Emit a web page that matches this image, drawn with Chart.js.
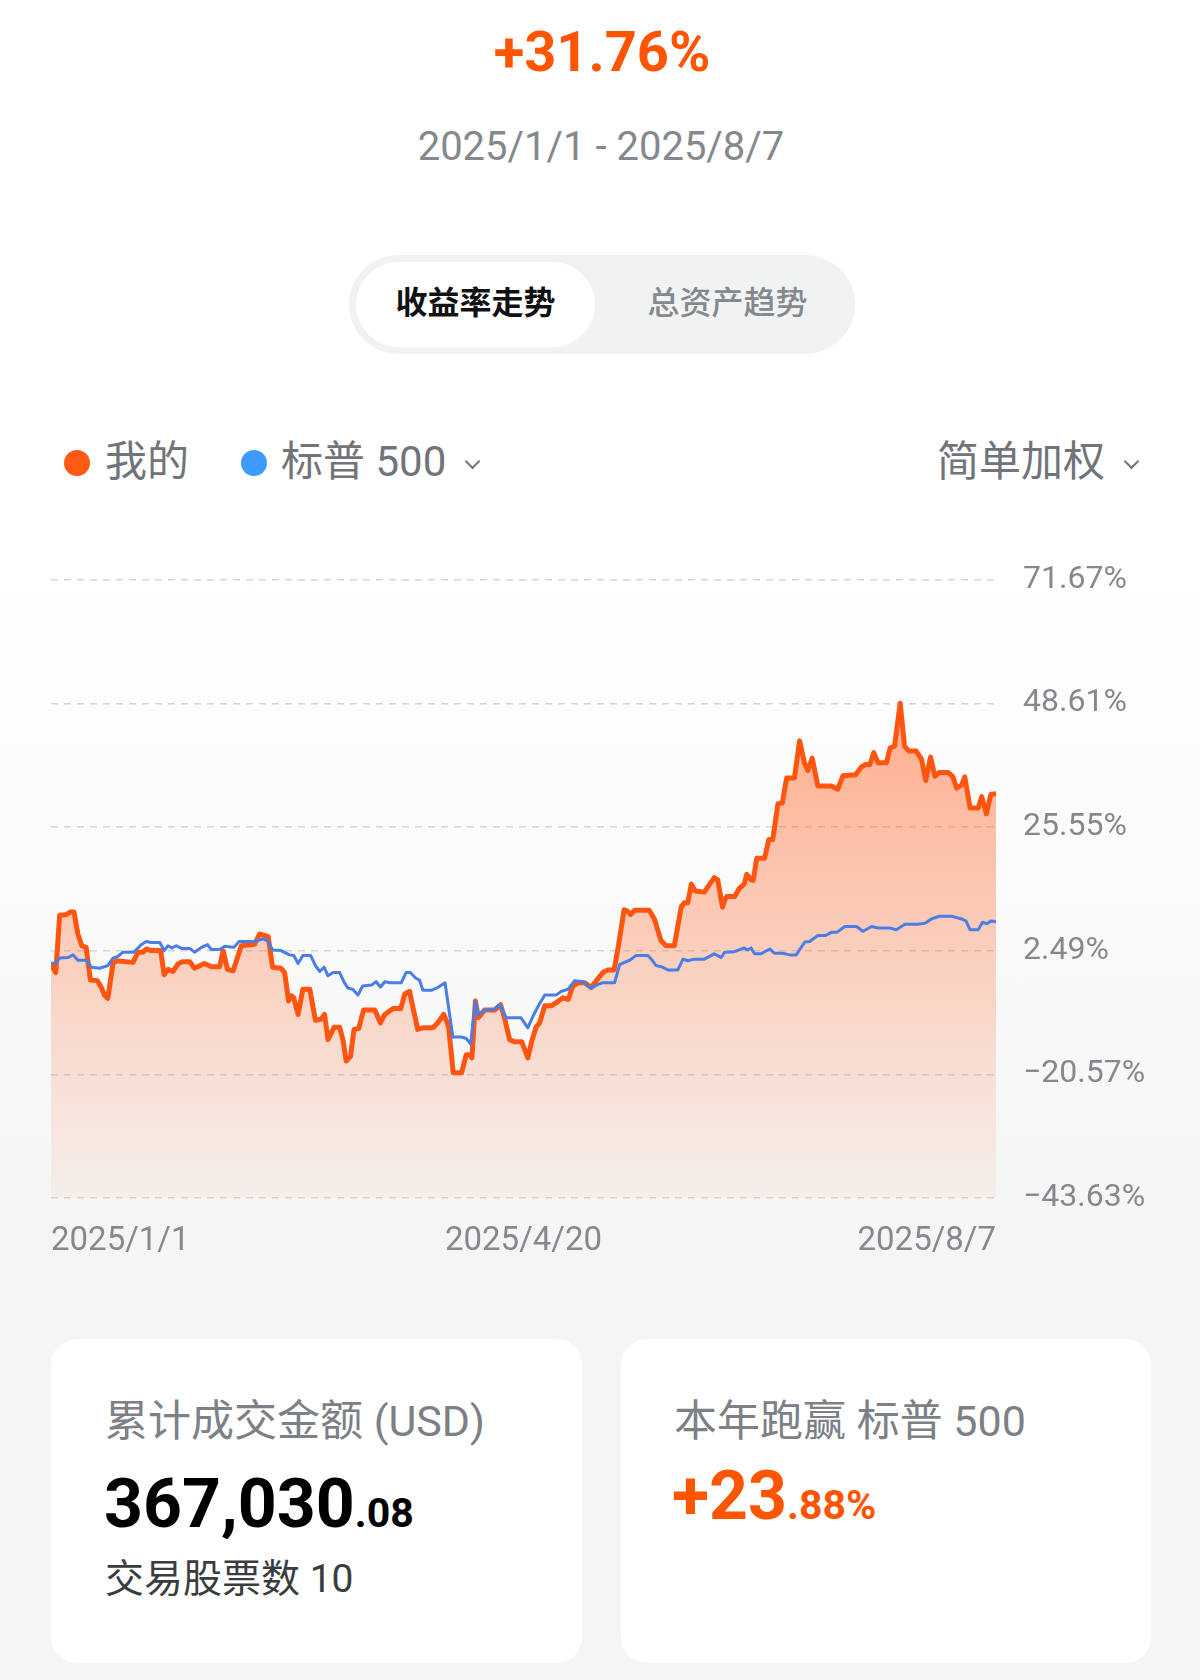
<!DOCTYPE html>
<html lang="zh-CN">
<head>
<meta charset="utf-8">
<title>收益率走势</title>
<script src="https://cdn.jsdelivr.net/npm/chart.js@4.4.1/dist/chart.umd.min.js"></script>
<style>
  html, body { margin: 0; padding: 0; }
  body {
    width: 1200px; height: 1680px; position: relative; overflow: hidden;
    font-family: Roboto, "Noto Sans CJK SC", sans-serif;
    background: linear-gradient(to bottom, #ffffff 0, #ffffff 560px, #f4f5f5 1250px, #f4f5f5 100%);
  }
  .abs { position: absolute; white-space: nowrap; }
  #total { left: 0; width: 1204px; top: 19px; line-height: 66px; text-align: center; font-size: 56px; font-weight: 700; color: #ff5500; }
  #range { left: 0; width: 1202px; top: 124px; line-height: 46px; text-align: center; font-size: 40px; color: #85888d; }
  #toggle { left: 349px; top: 255px; width: 506px; height: 99px; border-radius: 50px; background: #f1f3f3; }
  #tabOn { left: 356px; top: 262px; width: 239px; height: 85px; border-radius: 43px; background: #fff; }
  .tab { top: 282px; line-height: 42px; font-size: 32px; text-align: center; width: 239px; }
  #tab1 { left: 356px; font-weight: 700; color: #111; }
  #tab2 { left: 608px; color: #85888d; font-weight: 500; }
  .dot { width: 26px; height: 26px; border-radius: 50%; top: 450px; }
  .leg { top: 437px; line-height: 50px; font-size: 42px; color: #717479; }
  .chev { width: 9px; height: 9px; border-right: 2.5px solid #717479; border-bottom: 2.5px solid #717479; transform: rotate(45deg); top: 456px; }
  #chartBox { left: 0; top: 540px; width: 1200px; height: 740px; }
  .card { top: 1339px; height: 324px; background: #fff; border-radius: 26px; }
  .cardLabel { top: 1396px; line-height: 50px; font-size: 43px; color: #7d8085; }
  .bigNum { line-height: 70px; font-size: 68px; font-weight: 700; }
  .bigNum span { font-size: 41px; }
</style>
</head>
<body>

<div class="abs" id="total">+31.76%</div>
<div class="abs" id="range">2025/1/1 - 2025/8/7</div>

<div class="abs" id="toggle"></div>
<div class="abs" id="tabOn"></div>
<div class="abs tab" id="tab1">收益率走势</div>
<div class="abs tab" id="tab2">总资产趋势</div>

<div class="abs dot" style="left:64px; background:#ff5a14;"></div>
<div class="abs leg" style="left:105px;">我的</div>
<div class="abs dot" style="left:241px; background:#3d9bff;"></div>
<div class="abs leg" style="left:281px;">标普 500</div>
<div class="abs chev" style="left:467px;"></div>
<div class="abs leg" style="left:937px;">简单加权</div>
<div class="abs chev" style="left:1126px;"></div>

<div class="abs" id="chartBox"><canvas id="chartRet" width="1200" height="740"></canvas></div>

<div class="abs card" style="left:51px; width:531px;"></div>
<div class="abs card" style="left:621px; width:530px;"></div>
<div class="abs cardLabel" style="left:105px;">累计成交金额 (USD)</div>
<div class="abs bigNum" style="left:104px; top:1469px; color:#000;">367,030<span>.08</span></div>
<div class="abs" style="left:105px; top:1556px; line-height:46px; font-size:39px; color:#3a3d40;">交易股票数 10</div>
<div class="abs cardLabel" style="left:674px;">本年跑赢 标普 500</div>
<div class="abs bigNum" style="left:672px; top:1461px; color:#ff5500;">+23<span>.88%</span></div>

<script>
/* 横轴：区间内的天数 (0 = 2025/1/1) 与标签 */
const xLabels = ['2025/1/1', '2025/4/20', '2025/8/7'];
const xTickDays = [0, 109, 218];

/* 纵轴刻度 (%) */
const yTicks = [-43.63, -20.57, 2.49, 25.55, 48.61, 71.67];

/* 我的收益率 (%) */
const myDays = [
  0, 1.1, 2.0, 3.5, 4.5, 5.3, 6.2, 7.1, 8.1, 9.1,
  10.7, 11.6, 12.4, 13.1, 14.3, 15.1, 18.9, 20.1, 21.2, 22.0,
  23.1, 25.3, 26.1, 27.0, 28.1, 29.3, 30.2, 32.0, 33.1, 35.4,
  37.0, 38.9, 39.7, 40.7, 42.0, 43.9, 47.0, 48.1, 50.1, 51.1,
  53.0, 53.9, 54.8, 55.4, 56.0, 57.0, 58.1, 59.7, 61.0, 62.3,
  63.1, 63.9, 65.3, 66.6, 67.4, 68.1, 69.1, 69.9, 71.0, 72.1,
  74.7, 76.0, 77.0, 78.9, 80.7, 81.6, 82.7, 84.6, 85.8, 88.1,
  89.2, 90.6, 91.7, 92.8, 94.7, 95.8, 96.6, 97.1, 97.9, 98.6,
  100.0, 102.3, 103.7, 104.6, 105.8, 106.9, 108.6, 110.0, 110.9, 111.9,
  112.7, 113.9, 115.4, 116.9, 118.1, 119.3, 120.4, 121.6, 123.1, 124.6,
  125.8, 127.3, 128.5, 129.9, 130.9, 132.2, 132.9, 133.7, 134.6, 138.0,
  139.2, 140.7, 141.9, 143.8, 145.4, 146.1, 146.9, 147.7, 148.6, 150.7,
  151.8, 153.0, 153.8, 154.9, 155.4, 155.9, 157.7, 158.8, 159.9, 160.5,
  161.5, 162.0, 162.8, 164.6, 165.6, 166.5, 167.7, 168.7, 169.7, 171.5,
  172.7, 173.8, 174.6, 175.6, 176.9, 180.0, 181.5, 182.7, 185.6, 186.9,
  187.9, 188.9, 189.8, 190.8, 192.7, 193.6, 194.6, 195.9, 196.9, 197.9,
  199.6, 200.8, 201.8, 202.9, 203.9, 204.9, 207.0, 208.0, 208.9, 210.1,
  210.8, 212.0, 213.9, 214.7, 215.8, 216.8, 218.0,
];
const myVals = [
  0.0, -1.6, 9.1, 9.2, 9.7, 9.7, 5.6, 3.4, 3.1, -3.0,
  -3.1, -4.4, -5.9, -6.4, 0.1, 0.6, 0.3, 2.2, 2.2, 2.8,
  2.5, 2.5, -2.0, -1.0, -1.4, 0.0, 0.4, 0.4, -0.8, 0.1,
  -0.5, -0.5, 2.5, -1.0, -1.3, 3.4, 3.7, 5.6, 5.1, -0.6,
  -0.8, -1.6, -6.9, -5.9, -6.3, -9.4, -4.7, -4.7, -10.5, -10.3,
  -9.4, -14.1, -11.8, -11.8, -14.4, -18.1, -17.2, -12.2, -12.0, -8.6,
  -8.6, -11.0, -9.4, -8.3, -8.3, -5.6, -5.1, -12.2, -11.9, -11.9,
  -11.0, -9.4, -11.6, -20.3, -20.3, -16.9, -16.9, -17.5, -6.9, -10.0,
  -8.6, -8.6, -7.6, -10.0, -14.1, -14.5, -14.5, -17.5, -14.4, -11.8,
  -11.0, -7.8, -7.8, -7.0, -6.3, -6.6, -4.1, -3.5, -3.5, -4.4,
  -3.1, -1.6, -1.1, -1.1, 3.4, 10.1, 9.9, 9.2, 10.0, 10.0,
  8.4, 4.4, 3.4, 3.4, 10.7, 11.4, 11.4, 14.9, 13.6, 13.4,
  14.7, 16.1, 15.7, 10.6, 11.9, 12.6, 12.6, 14.1, 14.9, 16.7,
  15.7, 15.6, 19.7, 19.7, 23.2, 23.2, 29.9, 30.0, 34.7, 34.7,
  41.6, 37.5, 36.1, 38.4, 33.2, 33.2, 32.6, 35.1, 35.3, 36.7,
  37.2, 37.2, 39.4, 37.5, 37.5, 40.3, 40.6, 48.6, 40.6, 39.7,
  39.7, 38.2, 34.2, 38.6, 35.0, 35.7, 35.7, 35.0, 32.8, 33.4,
  34.9, 29.1, 29.1, 31.2, 28.0, 31.6, 31.76,
];

/* 标普 500 收益率 (%) */
const spxDays = [
  0, 1.2, 2.0, 3.9, 5.1, 6.2, 8.1, 9.3, 11.2, 13.1,
  14.3, 15.4, 16.6, 19.1, 20.8, 22.0, 23.1, 25.1, 26.1, 27.0,
  27.9, 28.9, 30.1, 32.0, 33.1, 34.7, 36.1, 37.0, 38.9, 40.1,
  42.2, 43.4, 47.0, 48.9, 50.1, 51.1, 53.1, 55.0, 56.0, 57.0,
  58.1, 59.9, 61.0, 62.0, 63.0, 63.9, 65.1, 66.6, 67.7, 68.5,
  69.6, 70.8, 71.9, 74.0, 75.0, 76.0, 77.0, 78.3, 80.8, 81.9,
  82.9, 84.1, 85.0, 85.8, 87.7, 89.2, 90.9, 92.7, 94.6, 95.8,
  96.8, 97.9, 98.6, 99.9, 101.9, 103.5, 105.0, 108.4, 110.0, 111.2,
  112.7, 113.9, 116.5, 117.7, 119.3, 120.8, 122.7, 124.6, 126.2, 127.3,
  130.0, 131.2, 132.3, 133.5, 135.0, 137.7, 138.5, 139.6, 140.8, 142.3,
  144.6, 145.8, 146.9, 148.4, 150.7, 153.0, 154.6, 155.4, 157.7, 159.9,
  160.7, 161.5, 162.3, 163.8, 165.8, 166.9, 168.8, 170.4, 171.9, 173.9,
  175.0, 176.9, 178.7, 180.0, 181.3, 183.1, 185.8, 187.3, 189.3, 190.8,
  193.5, 195.0, 197.0, 200.0, 201.6, 203.1, 205.0, 207.8, 210.1, 211.1,
  212.0, 213.9, 214.9, 215.9, 216.8, 218.0,
];
const spxVals = [
  0.0, 0.3, 1.1, 1.2, 1.7, 0.7, 0.7, -0.6, -0.8, -0.3,
  1.1, 1.4, 2.2, 2.2, 3.6, 4.2, 4.0, 4.0, 2.5, 3.4,
  3.0, 3.4, 2.9, 2.9, 2.2, 3.1, 3.6, 2.7, 2.7, 3.3,
  3.1, 4.2, 4.2, 4.7, 4.2, 2.6, 2.5, 1.7, 1.6, 0.1,
  1.6, 1.6, -0.3, -1.4, -0.6, -2.2, -1.6, -1.6, -3.5, -4.5,
  -4.7, -5.8, -4.1, -3.9, -3.3, -4.3, -3.3, -3.5, -3.5, -1.6,
  -1.6, -2.6, -3.0, -4.9, -4.9, -4.4, -3.5, -13.6, -13.6, -13.9,
  -14.9, -7.0, -9.5, -8.6, -8.6, -7.6, -10.0, -10.0, -11.9, -9.7,
  -7.4, -5.8, -5.8, -5.1, -4.7, -3.1, -3.3, -4.5, -3.8, -3.5,
  -3.5, -0.1, 0.3, 0.7, 1.6, 1.6, 0.9, -0.3, -0.5, -1.1,
  -1.1, 0.9, 0.6, 0.9, 0.9, 1.9, 1.2, 2.2, 2.3, 3.0,
  2.6, 3.0, 1.9, 1.9, 2.8, 2.0, 2.0, 1.7, 1.7, 4.1,
  4.2, 5.3, 5.3, 5.9, 5.9, 7.0, 7.0, 6.1, 7.0, 6.7,
  6.7, 6.4, 7.4, 7.4, 7.6, 8.4, 8.9, 8.9, 8.4, 8.0,
  6.4, 6.4, 7.8, 7.5, 8.0, 7.88,
];

/* 收益区域的渐变填充 */
function fillGradient(context) {
  const area = context.chart.chartArea;
  if (!area) return 'rgba(255,105,45,0.3)';
  const g = context.chart.ctx.createLinearGradient(0, area.top, 0, area.bottom);
  g.addColorStop(0, 'rgba(255,105,45,0.66)');
  g.addColorStop(1, 'rgba(255,105,45,0.05)');
  return g;
}

new Chart(document.getElementById('chartRet'), {
  type: 'line',
  data: {
    datasets: [
      {
        label: '标普 500',
        data: spxDays.map((d, i) => ({ x: d, y: spxVals[i] })),
        borderColor: '#4a7de6',
        borderWidth: 3,
        borderJoinStyle: 'round',
        pointRadius: 0,
        fill: false,
        tension: 0,
        order: 0,
      },
      {
        label: '我的',
        data: myDays.map((d, i) => ({ x: d, y: myVals[i] })),
        borderColor: '#ff5511',
        borderWidth: 5,
        borderJoinStyle: 'round',
        borderCapStyle: 'round',
        pointRadius: 0,
        fill: 'start',
        backgroundColor: fillGradient,
        tension: 0,
        order: 1,
      },
    ],
  },
  options: {
    responsive: false,
    animation: false,
    devicePixelRatio: 1,
    layout: { padding: { left: 51, top: 39.6, right: 0, bottom: 0 } },
    plugins: { legend: { display: false }, tooltip: { enabled: false } },
    scales: {
      x: {
        type: 'linear',
        min: 0,
        max: 218,
        grid: { display: false },
        border: { display: false },
        afterBuildTicks: s => { s.ticks = xTickDays.map(v => ({ value: v })); },
        afterFit: s => { s.height = 82; },
        ticks: {
          autoSkip: false,
          maxRotation: 0,
          align: 'inner',
          padding: 16,
          color: '#85898e',
          font: { family: 'Roboto, sans-serif', size: 33 },
          callback: (v, i) => xLabels[i],
        },
      },
      y: {
        position: 'right',
        min: -43.63,
        max: 71.67,
        grid: { color: '#d6d6d6', lineWidth: 1.5, drawTicks: false },
        border: { display: false, dash: [7, 6] },
        afterBuildTicks: s => { s.ticks = yTicks.map(v => ({ value: v })); },
        afterFit: s => { s.width = 204; },
        ticks: {
          padding: 27,
          color: '#85898e',
          font: { family: 'Roboto, sans-serif', size: 32, lineHeight: 0.75 },
          callback: v => v.toFixed(2).replace('-', '\u2212') + '%',
        },
      },
    },
  },
});
</script>
</body>
</html>
